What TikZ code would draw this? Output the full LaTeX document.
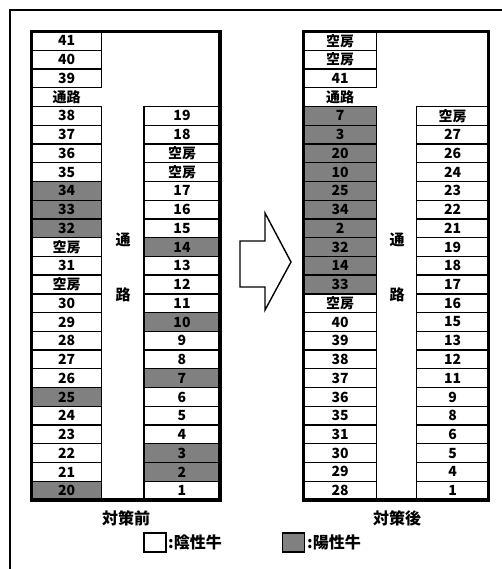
\documentclass[tikz,border=0pt]{standalone}
\usepackage{fontspec}
\newfontfamily\jpfont{Noto Sans CJK JP}
\definecolor{posgray}{RGB}{128,128,128}
\def\rh{18.74}

\begin{document}
\begin{tikzpicture}[
          x=1pt, y=-1pt,
          cell/.style={rectangle, draw=black, line width=1.3pt,
                       minimum height=\rh pt, inner sep=0pt, text centered,
                       font=\jpfont\bfseries\fontsize{14}{14}\selectfont},
          cellw/.style={cell, fill=white},
          cellg/.style={cell, fill=posgray},
          celln/.style={cell, draw=none},
          block/.style={draw=black, line width=3.5pt},
          aisle/.style={font=\jpfont\bfseries\fontsize{15}{15}\selectfont},
          caption/.style={font=\jpfont\bfseries\fontsize{16}{16}\selectfont},
          keybox/.style={rectangle, draw=black, line width=1.5pt,
                         minimum width=22pt, minimum height=19pt, inner sep=0pt}
        ]
          \useasboundingbox (0,0) rectangle (502,569);
          \draw[line width=1.3pt] (10,569) -- (10,10) -- (502,10);
          % before
          \foreach \t/\s [count=\r from 0] in {41/cellw, 40/cellw, 39/cellw, 通路/celln,
              38/cellw, 37/cellw, 36/cellw, 35/cellw, 34/cellg, 33/cellg, 32/cellg,
              空房/cellw, 31/cellw, 空房/cellw, 30/cellw, 29/cellw, 28/cellw, 27/cellw,
              26/cellw, 25/cellg, 24/cellw, 23/cellw, 22/cellw, 21/cellw, 20/cellg}
            \node[\s, minimum width=70.2pt] (bl\r) at (66.6, 31.5+\r*\rh+0.5*\rh) {\t};
          \foreach \t/\s [count=\r from 4] in {19/cellw, 18/cellw, 空房/cellw, 空房/cellw,
              17/cellw, 16/cellw, 15/cellw, 14/cellg, 13/cellw, 12/cellw, 11/cellw,
              10/cellg, 9/cellw, 8/cellw, 7/cellg, 6/cellw, 5/cellw, 4/cellw, 3/cellg,
              2/cellg, 1/cellw}
            \node[\s, minimum width=76pt] (br\r) at (182, 31.5+\r*\rh+0.5*\rh) {\t};
          \draw[block] (31.5,31.5) rectangle (220,500);
          \node[aisle] (bpass1) at (123,240) {通};
          \node[aisle] (bpass2) at (123,295) {路};
          \node[caption] (bcap) at (126,518) {対策前};
          % arrow
          \draw[line width=1.4pt, line join=miter] (240,241) -- (265,241) -- (265,213)
            -- (291,262) -- (265,310) -- (265,287) -- (240,287) -- cycle;
          % after
          \foreach \t/\s [count=\r from 0] in {空房/cellw, 空房/cellw, 41/cellw, 通路/celln,
              7/cellg, 3/cellg, 20/cellg, 10/cellg, 25/cellg, 34/cellg, 2/cellg, 32/cellg,
              14/cellg, 33/cellg, 空房/cellw, 40/cellw, 39/cellw, 38/cellw, 37/cellw,
              36/cellw, 35/cellw, 31/cellw, 30/cellw, 29/cellw, 28/cellw}
            \node[\s, minimum width=73.2pt] (al\r) at (340.1, 31.5+\r*\rh+0.5*\rh) {\t};
          \foreach \t [count=\r from 4] in {空房, 27, 26, 24, 23, 22, 21, 19, 18, 17, 16,
              15, 13, 12, 11, 9, 8, 6, 5, 4, 1}
            \node[cellw, minimum width=71.8pt] (ar\r) at (452.6, 31.5+\r*\rh+0.5*\rh) {\t};
          \draw[block] (303.5,31.5) rectangle (488.5,500);
          \node[aisle] (apass1) at (397,240) {通};
          \node[aisle] (apass2) at (397,295) {路};
          \node[caption] (acap) at (397,518) {対策後};
          % legend
          \node[keybox, fill=white] (negkey) at (155,542.5) {};
          \node[caption, anchor=west, inner sep=0pt] (negtxt) at (168,542.5) {:陰性牛};
          \node[keybox, fill=posgray] (poskey) at (293.5,542.5) {};
          \node[caption, anchor=west, inner sep=0pt] (postxt) at (307,542.5) {:陽性牛};
        \end{tikzpicture}
\end{document}
